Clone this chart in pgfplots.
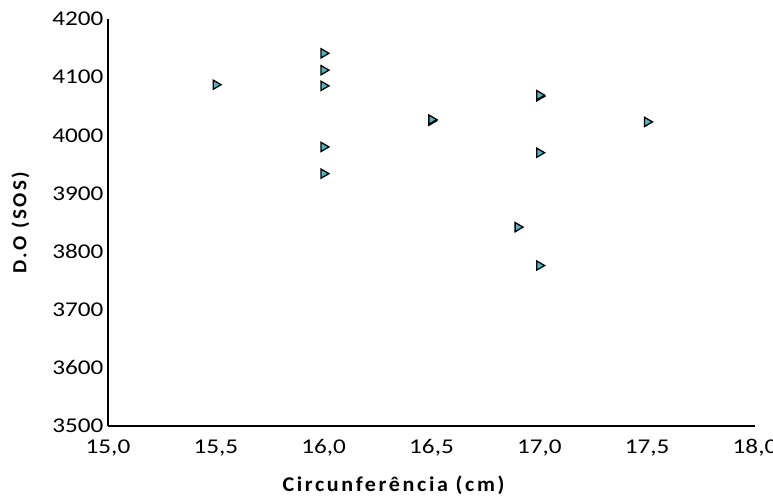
\documentclass[border=0pt]{standalone}
\usepackage{fontspec}
\setmainfont{Carlito}
\newfontfamily\labelfont{Carlito}[LetterSpace=12,BoldFont={* Bold}]
\usepackage{graphicx}
\usepackage{pgfplots}
\pgfplotsset{compat=1.18}
\definecolor{markfill}{RGB}{60,190,200}

\begin{document}
\begin{tikzpicture}
\useasboundingbox (-108pt,-71pt) rectangle (665pt,426pt);
\begin{axis}[
    scale only axis,
    width=647pt, height=407pt,
    xmin=15, xmax=18,
    ymin=3500, ymax=4200,
    xtick={15,15.5,...,18},
    ytick={3500,3600,...,4200},
    axis x line*=bottom,
    axis y line*=left,
    axis line style={line width=1.2pt},
    x axis line style={-},
    y axis line style={-},
    major tick length=0pt,
    xticklabel={\scalebox{1.2}[1]{\pgfmathprintnumber[assume math mode=true,fixed,fixed zerofill,precision=1,use comma]{\tick}}},
    yticklabel={\scalebox{1.2}[1]{\pgfmathprintnumber[assume math mode=true,fixed,1000 sep={}]{\tick}}},
    ticklabel style={font=\fontsize{21}{24}\selectfont},
    xticklabel style={yshift=-10pt},
    yticklabel style={xshift=-1pt},
    xtick style={draw=none}, ytick style={draw=none},
    xlabel={\labelfont\bfseries\fontsize{21}{24}\selectfont\scalebox{1.05}[1]{Circunferência (cm)}},
    ylabel={\labelfont\bfseries\fontsize{20}{24}\selectfont\scalebox{1.05}[1]{D.O (SOS)}},
    xlabel style={yshift=-12pt, xshift=-38pt},
    ylabel style={yshift=16pt},
    clip=false,
]
\addplot[only marks,
    mark=triangle*,
    mark options={rotate=-90, fill=markfill, draw=black, line width=1.3pt},
    mark size=5.3pt,
] coordinates {
    (15.5, 4087)
    (16.0, 4141)
    (16.0, 4112)
    (16.0, 4085)
    (16.0, 3980)
    (16.0, 3934)
    (16.5, 4025)
    (16.5, 4027)
    (16.9, 3842)
    (17.0, 4067)
    (17.0, 4069)
    (17.0, 3970)
    (17.0, 3776)
    (17.5, 4023)
};
\end{axis}
\end{tikzpicture}
\end{document}
